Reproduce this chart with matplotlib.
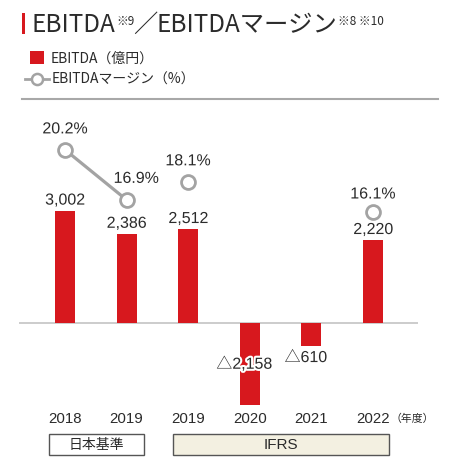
import matplotlib
matplotlib.use("Agg")
import matplotlib.pyplot as plt
from matplotlib.patches import Rectangle
from matplotlib.lines import Line2D
import matplotlib.patheffects as pe
import matplotlib.transforms as mtransforms

# ---------------- data ----------------
years = ['2018', '2019', '2019', '2020', '2021', '2022']
ebitda = [3002, 2386, 2512, -2158, -610, 2220]          # 億円
margin = [20.2, 16.9, 18.1, None, None, 16.1]           # %
standards = ['日本基準', 'IFRS']
title_main = 'EBITDA'
title_sep = '／'
title_second = 'EBITDAマージン'
note1 = '※9'
note2 = '※8 ※10'
legend_bar = 'EBITDA（億円）'
legend_line = 'EBITDAマージン（%）'
unit_label = '（年度）'

RED = '#d7181e'
GRAY_LINE = '#a3a3a3'
TXT = '#2b2b2b'
JP = ['Noto Sans CJK JP', 'DejaVu Sans']
NUM = ['Liberation Sans', 'Noto Sans CJK JP', 'DejaVu Sans']

W, H = 463, 464
fig = plt.figure(figsize=(W / 100, H / 100), dpi=100)
fig.patch.set_facecolor('white')


def fx(x):
    return x / W


def fy(y):
    return 1 - y / H


# ---------------- main axes ----------------
ax_l, ax_r, ax_t, ax_b = 19, 418, 105, 412
ax = fig.add_axes([fx(ax_l), fy(ax_b), fx(ax_r - ax_l), (ax_b - ax_t) / H])
ax.set_xlim(-0.747, 5.73)
ax.set_ylim(-2325, 5832)
ax.axis('off')

xs = list(range(len(years)))
ax.bar(xs, ebitda, width=0.325, color=RED, zorder=2)
ax.axhline(0, color='#c8c8c8', lw=1.3, zorder=1)

stroke = [pe.withStroke(linewidth=3, foreground='white')]


def fmt(v):
    s = f'{abs(v):,}'
    return ('△' + s) if v < 0 else s


for i, v in enumerate(ebitda):
    if v >= 0:
        ax.annotate(fmt(v), (i, v), xytext=(0, 7.5), textcoords='offset points',
                    ha='center', va='center', fontsize=11.5, color=TXT,
                    family=NUM, path_effects=stroke, zorder=5)
    else:
        if i == 3:
            ax.annotate(fmt(v), (i, v / 2), xytext=(-4, 0), textcoords='offset points',
                        ha='center', va='center', fontsize=11.5, color=TXT,
                        family=NUM, path_effects=stroke, zorder=5)
        else:
            ax.annotate(fmt(v), (i, v), xytext=(-4, -8), textcoords='offset points',
                        ha='center', va='center', fontsize=11.5, color=TXT,
                        family=NUM, path_effects=stroke, zorder=5)

# ---------------- margin axes ----------------
ax2 = ax.twinx()
ax2.set_ylim(3.01, 23.21)
ax2.axis('off')
ax2.plot(xs[:2], margin[:2], color=GRAY_LINE, lw=2.3, zorder=3)
mx = [x for x, m in zip(xs, margin) if m is not None]
my = [m for m in margin if m is not None]
ax2.plot(mx, my, ls='none', marker='o', ms=10, mfc='white', mec=GRAY_LINE,
         mew=2, zorder=4)
offsets = {0: (0, 15), 1: (7, 15.5), 2: (0, 15), 5: (0, 13)}
for x, m in zip(mx, my):
    dx, dy = offsets[x]
    ax2.annotate(f'{m:.1f}%', (x, m), xytext=(dx, dy), textcoords='offset points',
                 ha='center', va='center', fontsize=11.5, color=TXT, family=NUM,
                 path_effects=stroke, zorder=6)

# year labels
trans = mtransforms.blended_transform_factory(ax.transData, fig.transFigure)
for i, y in enumerate(years):
    ax.text(i, fy(419), y, transform=trans, ha='center', va='center',
            fontsize=10.8, color=TXT, family=NUM)
fig.text(fx(412), fy(419), unit_label, ha='center', va='center', fontsize=7.8,
         color=TXT, family=JP)

# standard boxes
fig.patches.append(Rectangle((fx(49), fy(456)), fx(144 - 49), (456 - 435) / H,
                             transform=fig.transFigure, facecolor='white',
                             edgecolor='#555555', lw=1))
fig.patches.append(Rectangle((fx(173), fy(456)), fx(389 - 173), (456 - 435) / H,
                             transform=fig.transFigure, facecolor='#f3f0e1',
                             edgecolor='#555555', lw=1))
fig.text(fx(96.5), fy(445.5), standards[0], ha='center', va='center',
         fontsize=10, color=TXT, family=JP)
fig.text(fx(281), fy(445.5), standards[1], ha='center', va='center',
         fontsize=11, color=TXT, family=NUM)

# ---------------- title ----------------
fig.patches.append(Rectangle((fx(22), fy(35)), fx(3), 21 / H,
                             transform=fig.transFigure, facecolor=RED, edgecolor='none'))
renderer = fig.canvas.get_renderer()
x_cur = 32
base_big = 32
base_small = 25
pieces = [(title_main, 17.5, base_big, 0.5), (note1, 8.5, base_small, -1),
          (title_sep, 17.5, base_big, -1), (title_second, 17.5, base_big, 1),
          (note2, 8.5, base_small, 0)]
for txt, size, base, gap in pieces:
    t = fig.text(fx(x_cur), fy(base), txt, ha='left', va='baseline',
                 fontsize=size, color=TXT, family=JP)
    bb = t.get_window_extent(renderer=renderer)
    x_cur += bb.width + gap

# ---------------- legend ----------------
fig.patches.append(Rectangle((fx(30), fy(65)), fx(14), 13 / H,
                             transform=fig.transFigure, facecolor=RED, edgecolor='none'))
fig.text(fx(51), fy(58.5), legend_bar, ha='left', va='center', fontsize=10,
         color=TXT, family=JP)
fig.lines.append(Line2D([fx(25), fx(49)], [fy(80), fy(80)], transform=fig.transFigure,
                        color=GRAY_LINE, lw=2))
fig.lines.append(Line2D([fx(37)], [fy(80)], transform=fig.transFigure, marker='o',
                        ms=8, mfc='white', mec=GRAY_LINE, mew=1.8, ls='none'))
fig.text(fx(52), fy(80), legend_line, ha='left', va='center', fontsize=10,
         color=TXT, family=JP)
fig.lines.append(Line2D([fx(22), fx(438)], [fy(99.5), fy(99.5)], transform=fig.transFigure,
                        color='#a8a8a8', lw=1.5))

fig.savefig('out.png', dpi=100, facecolor='white')
